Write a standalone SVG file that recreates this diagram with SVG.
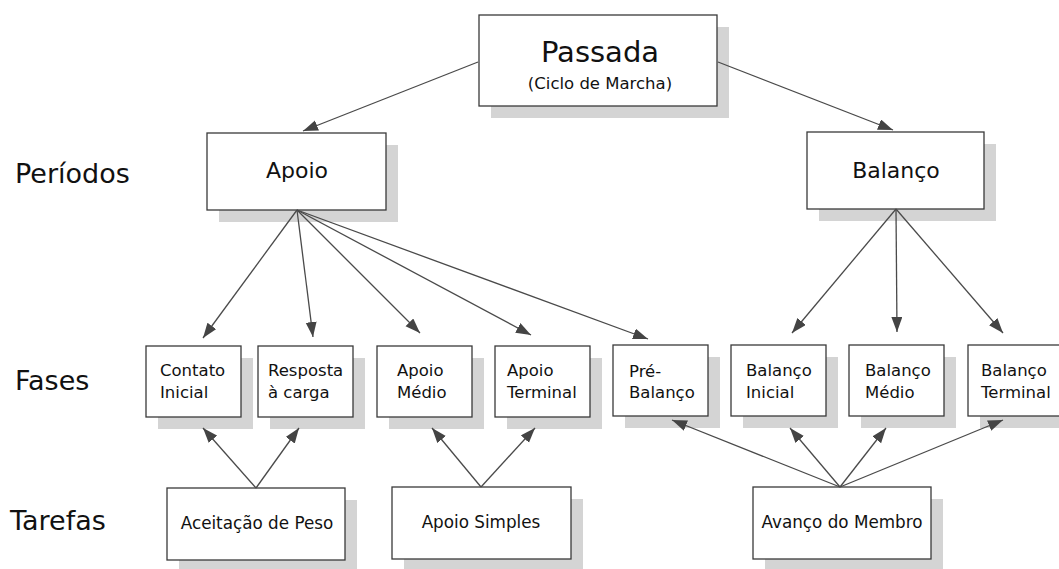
<svg xmlns="http://www.w3.org/2000/svg" width="1059" height="569" viewBox="0 0 1059 569">
  <defs>
    <marker id="arrow" markerUnits="userSpaceOnUse" markerWidth="16" markerHeight="12" refX="15" refY="5.5" orient="auto">
      <path d="M0,0 L15,5.5 L0,11 Z" fill="#444"/>
    </marker>
  </defs>
  <style>
    .box { fill: #fff; stroke: #3a3a3a; stroke-width: 1.3; }
    .shadow { fill: #d4d4d4; }
    .t { font-family: "DejaVu Sans", "Liberation Sans", sans-serif; fill: #111; }
    .side { font-size: 27px; }
    .phase { font-size: 16.5px; }
    .task { font-size: 16.8px; text-anchor: middle; }
    .period { font-size: 22px; text-anchor: middle; }
    .edge { stroke: #4a4a4a; stroke-width: 1.3; fill: none; marker-end: url(#arrow); }
  </style>

  <rect width="1059" height="569" fill="#fff"/>

  <!-- level labels -->
  <g id="labels">
    <text class="t side" x="15" y="183">Períodos</text>
    <text class="t side" x="15" y="390">Fases</text>
    <text class="t side" x="10" y="530">Tarefas</text>
  </g>

  <!-- cycle -->
  <g id="passada">
    <rect class="shadow" x="491" y="27" width="238" height="91"/>
    <rect class="box" x="479" y="15" width="238" height="91"/>
    <text class="t" x="600" y="62" font-size="29" text-anchor="middle">Passada</text>
    <text class="t" x="600" y="89" font-size="16.5" text-anchor="middle">(Ciclo de Marcha)</text>
  </g>

  <!-- periods -->
  <g id="apoio">
    <rect class="shadow" x="219" y="145" width="179" height="77"/>
    <rect class="box" x="207" y="133" width="179" height="77"/>
    <text class="t period" x="297" y="178">Apoio</text>
  </g>
  <g id="balanco">
    <rect class="shadow" x="819" y="144" width="177" height="77"/>
    <rect class="box" x="807" y="132" width="177" height="77"/>
    <text class="t period" x="896" y="178">Balanço</text>
  </g>

  <!-- phases -->
  <g id="contato-inicial">
    <rect class="shadow" x="158" y="358" width="95" height="71"/>
    <rect class="box" x="146" y="346" width="95" height="71"/>
    <text class="t phase" x="160" y="376">Contato</text>
    <text class="t phase" x="160" y="398">Inicial</text>
  </g>
  <g id="resposta-carga">
    <rect class="shadow" x="270" y="358" width="95" height="71"/>
    <rect class="box" x="258" y="346" width="95" height="71"/>
    <text class="t phase" x="268" y="376">Resposta</text>
    <text class="t phase" x="268" y="398">à carga</text>
  </g>
  <g id="apoio-medio">
    <rect class="shadow" x="389" y="358" width="95" height="71"/>
    <rect class="box" x="377" y="346" width="95" height="71"/>
    <text class="t phase" x="397" y="376">Apoio</text>
    <text class="t phase" x="397" y="398">Médio</text>
  </g>
  <g id="apoio-terminal">
    <rect class="shadow" x="507" y="358" width="95" height="71"/>
    <rect class="box" x="495" y="346" width="95" height="71"/>
    <text class="t phase" x="507" y="376">Apoio</text>
    <text class="t phase" x="507" y="398">Terminal</text>
  </g>
  <g id="pre-balanco">
    <rect class="shadow" x="625" y="357" width="95" height="71"/>
    <rect class="box" x="613" y="345" width="95" height="71"/>
    <text class="t phase" x="629" y="377">Pré-</text>
    <text class="t phase" x="629" y="398">Balanço</text>
  </g>
  <g id="balanco-inicial">
    <rect class="shadow" x="743" y="357" width="95" height="71"/>
    <rect class="box" x="731" y="345" width="95" height="71"/>
    <text class="t phase" x="746" y="376">Balanço</text>
    <text class="t phase" x="746" y="398">Inicial</text>
  </g>
  <g id="balanco-medio">
    <rect class="shadow" x="861" y="357" width="95" height="71"/>
    <rect class="box" x="849" y="345" width="95" height="71"/>
    <text class="t phase" x="865" y="376">Balanço</text>
    <text class="t phase" x="865" y="398">Médio</text>
  </g>
  <g id="balanco-terminal">
    <rect class="shadow" x="980" y="357" width="95" height="71"/>
    <rect class="box" x="968" y="345" width="95" height="71"/>
    <text class="t phase" x="981" y="376">Balanço</text>
    <text class="t phase" x="981" y="398">Terminal</text>
  </g>

  <!-- tasks -->
  <g id="aceitacao-peso">
    <rect class="shadow" x="179" y="500" width="178" height="72"/>
    <rect class="box" x="167" y="488" width="178" height="72"/>
    <text class="t task" x="257" y="529">Aceitação de Peso</text>
  </g>
  <g id="apoio-simples">
    <rect class="shadow" x="404" y="499" width="179" height="72"/>
    <rect class="box" x="392" y="487" width="179" height="72"/>
    <text class="t task" x="481" y="528">Apoio Simples</text>
  </g>
  <g id="avanco-membro">
    <rect class="shadow" x="765" y="499" width="178" height="72"/>
    <rect class="box" x="753" y="487" width="178" height="72"/>
    <text class="t task" x="842" y="528">Avanço do Membro</text>
  </g>

  <!-- connectors, drawn last so they lie over the drop shadows -->
  <g id="connectors">
    <line class="edge" x1="478" y1="62" x2="303" y2="131"/>
    <line class="edge" x1="718" y1="62" x2="893" y2="130"/>

    <line class="edge" x1="297" y1="210" x2="203" y2="338"/>
    <line class="edge" x1="297" y1="210" x2="313" y2="337"/>
    <line class="edge" x1="297" y1="210" x2="420" y2="333"/>
    <line class="edge" x1="297" y1="210" x2="531" y2="335"/>
    <line class="edge" x1="297" y1="210" x2="648" y2="339"/>

    <line class="edge" x1="896" y1="209" x2="792" y2="333"/>
    <line class="edge" x1="896" y1="209" x2="897" y2="332"/>
    <line class="edge" x1="896" y1="209" x2="1003" y2="333"/>

    <line class="edge" x1="256" y1="488" x2="203" y2="428"/>
    <line class="edge" x1="256" y1="488" x2="299" y2="428"/>
    <line class="edge" x1="481" y1="487" x2="432" y2="428"/>
    <line class="edge" x1="481" y1="487" x2="535" y2="428"/>

    <line class="edge" x1="840" y1="487" x2="672" y2="420"/>
    <line class="edge" x1="840" y1="487" x2="790" y2="428"/>
    <line class="edge" x1="840" y1="487" x2="886" y2="428"/>
    <line class="edge" x1="840" y1="487" x2="1003" y2="420"/>
  </g>
</svg>
